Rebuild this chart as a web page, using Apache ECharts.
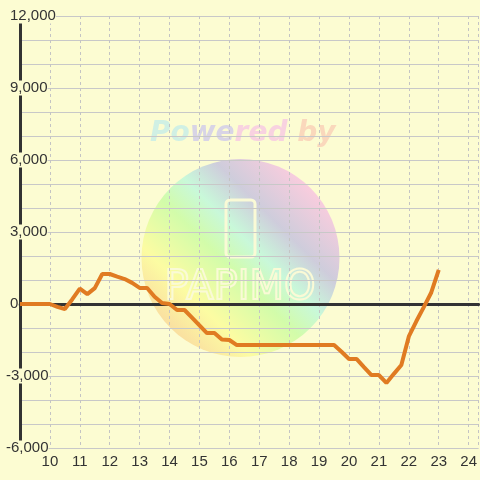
<!DOCTYPE html>
<html>
<head>
<meta charset="utf-8">
<script src="https://cdn.jsdelivr.net/npm/echarts@6/dist/echarts.min.js"></script>
<style>
  html, body { margin: 0; padding: 0; background: #fcfcd2; }
  #main { width: 480px; height: 480px; }
</style>
</head>
<body>
<div id="main"></div>
<script>
// time of day (hours) and running value
const hours = [9, 9.25, 9.5, 9.75, 10, 10.25, 10.5, 10.75, 11, 11.25, 11.5, 11.75,
  12, 12.25, 12.5, 12.75, 13, 13.25, 13.5, 13.75, 14, 14.25, 14.5, 14.75,
  15, 15.25, 15.5, 15.75, 16, 16.25, 16.5, 16.75, 17, 17.25, 17.5, 17.75,
  18, 18.25, 18.5, 18.75, 19, 19.25, 19.5, 19.75, 20, 20.25, 20.5, 20.75,
  21, 21.25, 21.5, 21.75, 22, 22.25, 22.5, 22.75, 23];
const values = [0, 0, 0, 0, 0, -120, -210, 200, 640, 410, 660, 1250,
  1250, 1140, 1040, 880, 670, 670, 300, 40, 0, -250, -250, -570,
  -890, -1210, -1210, -1480, -1500, -1710, -1710, -1710, -1710, -1710, -1710, -1710,
  -1710, -1710, -1710, -1710, -1710, -1710, -1710, -1990, -2290, -2290, -2630, -2960,
  -2960, -3290, -2910, -2540, -1350, -720, -130, 480, 1420];

const bg = '#fcfcd2';
const chart = echarts.init(document.getElementById('main'));

// "Powered by" watermark, drawn in coloured pieces
const wmParts = ['Po', 'we', 'red', ' by'];
const wmColors = ['#d0f0e4', '#d8d4e6', '#f8d2e0', '#fad8bc'];
const wmX = [150, 189.7, 234.6, 287.4];
const wmText = wmParts.map((t, i) => ({
  type: 'text', z: -9, silent: true, x: wmX[i], y: 134,
  style: {
    text: t, fill: wmColors[i], align: 'left', verticalAlign: 'middle',
    fontStyle: 'italic', fontWeight: 'bold', fontSize: 28, fontFamily: 'DejaVu Sans'
  }
}));

chart.setOption({
  backgroundColor: bg,
  animation: false,
  grid: { left: 20, right: 0, top: 16, bottom: 32 },
  graphic: [
    {
      type: 'circle', z: -10, silent: true,
      shape: { cx: 240.5, cy: 258, r: 99 },
      style: {
        opacity: 0.95,
        fill: new echarts.graphic.LinearGradient(0, 1, 1, 0, [
          { offset: 0.05, color: '#f8c89c' },
          { offset: 0.28, color: '#fcfca0' },
          { offset: 0.45, color: '#d0fca8' },
          { offset: 0.56, color: '#c6f8da' },
          { offset: 0.68, color: '#cccadc' },
          { offset: 0.85, color: '#f8cade' }
        ])
      }
    },
    {
      type: 'rect', z: -9, silent: true,
      shape: { x: 226, y: 200, width: 29, height: 57, r: 4 },
      style: { fill: 'none', stroke: '#fafad6', lineWidth: 3 }
    },
    {
      type: 'text', z: -9, silent: true, x: 240, y: 289,
      style: {
        text: 'PAPIMO', fontSize: 40, fontFamily: 'DejaVu Sans', fill: 'none',
        stroke: '#fafad6', lineWidth: 2, align: 'center', verticalAlign: 'middle'
      }
    }
  ].concat(wmText),
  xAxis: [
    {
      type: 'value', min: 9, max: 24.333, interval: 1, position: 'bottom',
      axisLine: { show: true, onZero: true, lineStyle: { color: '#333', width: 3 } },
      axisTick: { show: false },
      axisLabel: { show: false },
      splitLine: { show: false },
      minorSplitLine: { show: false }
    },
    {
      type: 'value', min: 9, max: 24.333, interval: 1, position: 'bottom',
      axisLine: { show: false, onZero: false },
      axisTick: { show: false },
      axisLabel: {
        color: '#333', fontSize: 15, margin: 6, fontFamily: 'Liberation Sans',
        showMinLabel: false, showMaxLabel: false
      },
      splitLine: { show: true, lineStyle: { color: '#c4c4c4', type: [3, 3] } },
      minorSplitLine: { show: false }
    }
  ],
  yAxis: {
    type: 'value', min: -6000, max: 12000, interval: 3000,
    axisLine: { show: true, onZero: false, lineStyle: { color: '#333', width: 3 } },
    axisTick: { show: false },
    axisLabel: {
      color: '#333', fontSize: 15, align: 'left', margin: 14,
      fontFamily: 'Liberation Sans', backgroundColor: bg,
      // minus sign hangs to the left of the digit column
      formatter: v => (v >= 0 ? '{s|}' : '') + v.toLocaleString('en-US'),
      rich: { s: { width: 4 } }
    },
    splitLine: { lineStyle: { color: '#c8c8c8' } },
    minorTick: { show: false, splitNumber: 3 },
    minorSplitLine: { show: true, lineStyle: { color: '#c8c8c8' } }
  },
  series: [
    {
      type: 'line',
      xAxisIndex: 1,
      data: hours.map((h, i) => [h, values[i]]),
      symbol: 'none',
      z: 5,
      lineStyle: { color: '#e07b22', width: 4 },
      itemStyle: { color: '#e07b22' }
    }
  ]
});
</script>
</body>
</html>
